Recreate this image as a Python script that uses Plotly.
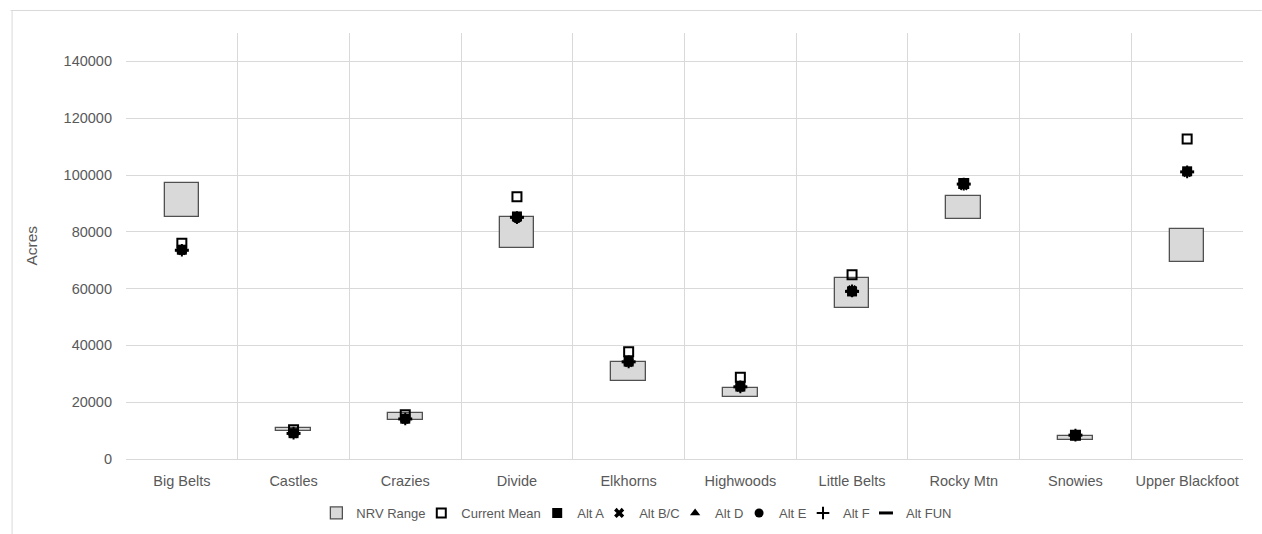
import plotly.graph_objects as go

regions = ["Big Belts", "Castles", "Crazies", "Divide", "Elkhorns", "Highwoods",
           "Little Belts", "Rocky Mtn", "Snowies", "Upper Blackfoot"]
nrv_low = [85200, 9800, 13900, 74200, 27600, 22000, 53000, 84500, 6700, 69500]
nrv_high = [97200, 10900, 16200, 85200, 34300, 24900, 63700, 92600, 8100, 81000]
current_mean = [76000, 10300, 15600, 92300, 37800, 28800, 64900, 97000, 8400, 112700]
alt_a = [73700, 9100, 14200, 85400, 34300, 25500, 59000, 97000, 8400, 101300]
alt_bc = [73500, 9000, 14100, 85000, 34100, 25400, 59500, 96300, 8300, 101000]
alt_d = [73600, 9100, 14100, 85300, 34200, 25500, 59700, 96900, 8400, 101200]
alt_e = [73400, 9000, 14000, 84600, 34100, 25300, 58800, 96700, 8300, 101000]
alt_f = [73500, 9100, 14100, 85000, 34200, 25400, 59200, 96800, 8400, 101100]
alt_fun = [73500, 9000, 14100, 85100, 34200, 25400, 59000, 96800, 8400, 101100]

FONT = "Liberation Sans"
TXT = "#595959"
GRID = "#D9D9D9"

# plot area geometry (pixels)
L, R, T, B = 125.5, 1243.3, 33, 459
W, H = R - L, B - T


def px(x):
    return (x - L) / W


def py(y):
    return (B - y) / H


# legend text start positions (px) for each legend entry
legend_text_x = [356, 461, 577, 639, 715, 779, 843, 906]
legend_names = ["legend", "legend2", "legend3", "legend4", "legend5", "legend6", "legend7", "legend8"]

fig = go.Figure()
fig.add_trace(go.Bar(
    x=regions, y=[h - l for h, l in zip(nrv_high, nrv_low)], base=nrv_low,
    name="NRV Range", width=0.31, legend=legend_names[0],
    marker=dict(color="#D9D9D9", line=dict(color="#505050", width=1.3)),
))

idx = [1]


def pts(name, vals, symbol, size, lw=0):
    fig.add_trace(go.Scatter(
        x=regions, y=vals, mode="markers", name=name, legend=legend_names[idx[0]],
        marker=dict(symbol=symbol, size=size, color="black",
                    line=dict(color="black", width=lw)),
    ))
    idx[0] += 1


pts("Current Mean", current_mean, "square-open", 9, lw=2)
pts("Alt A", alt_a, "square", 10)
pts("Alt B/C", alt_bc, "x", 9)
pts("Alt D", alt_d, "triangle-up", 9)
pts("Alt E", alt_e, "circle", 9)
pts("Alt F", alt_f, "cross-thin-open", 9, lw=2)
pts("Alt FUN", alt_fun, "line-ew-open", 10, lw=3)

legends = {}
for name, tx in zip(legend_names, legend_text_x):
    legends[name] = dict(orientation="h", x=px(tx - 40), xanchor="left",
                         y=py(513), yanchor="middle", bgcolor="rgba(0,0,0,0)",
                         font=dict(size=13, color=TXT, family=FONT), itemwidth=30)

fig.update_layout(
    width=1262, height=534,
    margin=dict(l=L, r=1262 - R, t=T, b=534 - B, autoexpand=False),
    paper_bgcolor="white", plot_bgcolor="white",
    font=dict(family=FONT, size=14, color=TXT),
    showlegend=True,
    bargap=0,
    xaxis=dict(type="category", tickson="boundaries", showgrid=True, gridcolor=GRID,
               gridwidth=1, showline=True, linecolor=GRID, ticks="", tickangle=0,
               ticklabelstandoff=9, tickfont=dict(size=14.5, color=TXT),
               range=[-0.5, 9.5]),
    yaxis=dict(range=[0, 150000],
               tickvals=[0, 20000, 40000, 60000, 80000, 100000, 120000, 140000],
               ticktext=["0", "20000", "40000", "60000", "80000", "100000", "120000", "140000"],
               showgrid=True, gridcolor=GRID, gridwidth=1, zeroline=False,
               showline=False, ticks="", ticklabelstandoff=13,
               tickfont=dict(size=14.5, color=TXT)),
    annotations=[dict(text="Acres", x=px(30), y=0.5, xref="paper", yref="paper",
                      xanchor="center", yanchor="middle",
                      textangle=-90, showarrow=False, font=dict(size=15.5, color=TXT))],
    shapes=[
        dict(type="line", xref="paper", yref="paper", x0=px(10), x1=px(1262),
             y0=py(10.5), y1=py(10.5), line=dict(color=GRID, width=1)),
        dict(type="line", xref="paper", yref="paper", x0=px(11.5), x1=px(11.5),
             y0=py(10), y1=py(534), line=dict(color=GRID, width=1)),
    ],
    **legends,
)

fig.write_html("out.html")
